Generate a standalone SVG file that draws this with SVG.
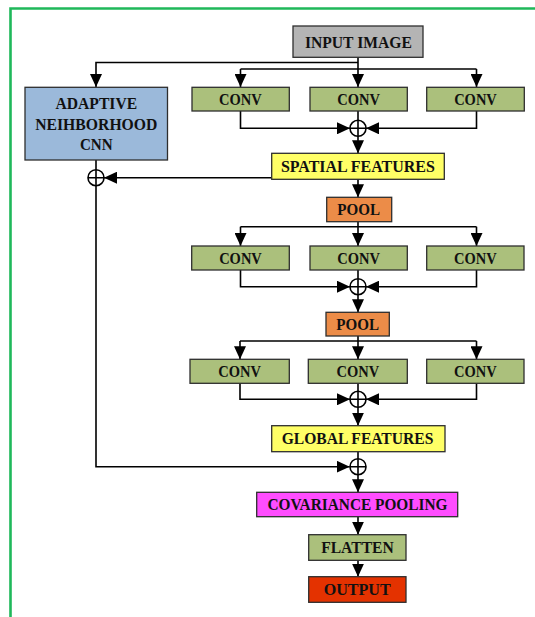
<svg xmlns="http://www.w3.org/2000/svg" width="535" height="617" viewBox="0 0 535 617">
  <style>
    .box { stroke: #2e2e2e; stroke-width: 1.3; }
    .lbl { font-family: "Liberation Serif", "Times New Roman", serif; font-weight: bold; font-size: 17px; fill: #111; text-anchor: middle; }
    .wire { fill: none; stroke: #000; stroke-width: 1.6; }
    .sum { fill: #fff; stroke: #000; stroke-width: 1.6; }
    .gray { fill: #b4b4b4; }
    .blue { fill: #9bb9da; }
    .green { fill: #abc07c; }
    .yellow { fill: #ffff66; }
    .orange { fill: #ec8c48; }
    .magenta { fill: #ff4dff; }
    .red { fill: #e43200; }
  </style>
  <defs>
    <marker id="arrow" markerUnits="userSpaceOnUse" markerWidth="13" markerHeight="12" refX="13" refY="6" orient="auto">
      <path d="M0,0 L13,6 L0,12 z" fill="#000"/>
    </marker>
    <g id="plus">
      <circle class="sum" cx="0" cy="0" r="8"/>
      <path class="wire" d="M-8,0 H8 M0,-8 V8"/>
    </g>
  </defs>

  <!-- outer frame -->
  <path d="M10.5,617 V8.5 H535" fill="none" stroke="#1fb85a" stroke-width="2.6"/>

  <!-- connectors -->
  <g id="connectors">
    <!-- input fan-out -->
    <path class="wire" d="M358,57 V87" marker-end="url(#arrow)"/>
    <path class="wire" d="M358,62.5 H96 V87" marker-end="url(#arrow)"/>
    <path class="wire" d="M240.5,69 H476.5"/>
    <path class="wire" d="M240.5,69 V87" marker-end="url(#arrow)"/>
    <path class="wire" d="M476.5,69 V87" marker-end="url(#arrow)"/>
    <!-- block 1 merge -->
    <path class="wire" d="M240.5,111 V128.3 H350" marker-end="url(#arrow)"/>
    <path class="wire" d="M476.5,111 V128.3 H366" marker-end="url(#arrow)"/>
    <path class="wire" d="M358,111 V120.3"/>
    <path class="wire" d="M358,136.3 V153.3" marker-end="url(#arrow)"/>
    <!-- spatial features to side branch -->
    <path class="wire" d="M271.7,177.7 H104" marker-end="url(#arrow)"/>
    <path class="wire" d="M96,160 V169.7"/>
    <path class="wire" d="M96,185.7 V466.7 H349.7" marker-end="url(#arrow)"/>
    <!-- pool 1 -->
    <path class="wire" d="M358,179.3 V197.3" marker-end="url(#arrow)"/>
    <path class="wire" d="M358,221.7 V246" marker-end="url(#arrow)"/>
    <path class="wire" d="M240.5,226.7 H476.5"/>
    <path class="wire" d="M240.5,226.7 V246" marker-end="url(#arrow)"/>
    <path class="wire" d="M476.5,226.7 V246" marker-end="url(#arrow)"/>
    <!-- block 2 merge -->
    <path class="wire" d="M240.5,270 V286.7 H350" marker-end="url(#arrow)"/>
    <path class="wire" d="M476.5,270 V286.7 H366" marker-end="url(#arrow)"/>
    <path class="wire" d="M358,270 V278.7"/>
    <path class="wire" d="M358,294.7 V312.3" marker-end="url(#arrow)"/>
    <!-- pool 2 -->
    <path class="wire" d="M358,336 V359.3" marker-end="url(#arrow)"/>
    <path class="wire" d="M240,341 H476.5"/>
    <path class="wire" d="M240,341 V359.3" marker-end="url(#arrow)"/>
    <path class="wire" d="M476.5,341 V359.3" marker-end="url(#arrow)"/>
    <!-- block 3 merge -->
    <path class="wire" d="M240,383.3 V399.3 H350" marker-end="url(#arrow)"/>
    <path class="wire" d="M476.5,383.3 V399.3 H366" marker-end="url(#arrow)"/>
    <path class="wire" d="M358,383.3 V391.3"/>
    <path class="wire" d="M358,407.3 V425.7" marker-end="url(#arrow)"/>
    <!-- fusion and head -->
    <path class="wire" d="M358,451.7 V458.7"/>
    <path class="wire" d="M358,474.7 V492.3" marker-end="url(#arrow)"/>
    <path class="wire" d="M358,516.7 V534.7" marker-end="url(#arrow)"/>
    <path class="wire" d="M358,560.3 V576.7" marker-end="url(#arrow)"/>
  </g>

  <!-- summation junctions -->
  <g id="sum1"><use href="#plus" x="358" y="128.3"/></g>
  <g id="sum-side"><use href="#plus" x="96" y="177.7"/></g>
  <g id="sum2"><use href="#plus" x="358" y="286.7"/></g>
  <g id="sum3"><use href="#plus" x="358" y="399.3"/></g>
  <g id="sum4"><use href="#plus" x="358" y="466.7"/></g>

  <!-- nodes -->
  <g id="input-image">
    <rect class="box gray" x="293" y="26" width="130" height="31.3"/>
    <text class="lbl" x="358.4" y="47.6" textLength="107" lengthAdjust="spacingAndGlyphs">INPUT IMAGE</text>
  </g>
  <g id="adaptive-cnn">
    <rect class="box blue" x="25" y="87.3" width="142.5" height="72.7"/>
    <text class="lbl" x="96.3" y="109.2" textLength="81.7" lengthAdjust="spacingAndGlyphs">ADAPTIVE</text>
    <text class="lbl" x="96.3" y="129.7" textLength="122.3" lengthAdjust="spacingAndGlyphs">NEIHBORHOOD</text>
    <text class="lbl" x="96.3" y="150.2" textLength="32.7" lengthAdjust="spacingAndGlyphs">CNN</text>
  </g>

  <g id="conv-1a"><rect class="box green" x="192" y="87.3" width="97.3" height="23.7"/><text class="lbl" x="240.4" y="105.1" textLength="42.7" lengthAdjust="spacingAndGlyphs">CONV</text></g>
  <g id="conv-1b"><rect class="box green" x="310" y="87.3" width="97.3" height="23.7"/><text class="lbl" x="358.6" y="105.1" textLength="42.7" lengthAdjust="spacingAndGlyphs">CONV</text></g>
  <g id="conv-1c"><rect class="box green" x="426.7" y="87.3" width="97.6" height="23.7"/><text class="lbl" x="475.5" y="105.1" textLength="42.7" lengthAdjust="spacingAndGlyphs">CONV</text></g>

  <g id="spatial-features">
    <rect class="box yellow" x="271.7" y="153.3" width="172.6" height="26"/>
    <text class="lbl" x="357.9" y="172" textLength="154" lengthAdjust="spacingAndGlyphs">SPATIAL FEATURES</text>
  </g>

  <g id="pool-1">
    <rect class="box orange" x="326.7" y="197.3" width="65" height="24.4"/>
    <text class="lbl" x="358.7" y="215.3" textLength="42.7" lengthAdjust="spacingAndGlyphs">POOL</text>
  </g>

  <g id="conv-2a"><rect class="box green" x="191.7" y="246" width="97.6" height="24"/><text class="lbl" x="240.5" y="263.9" textLength="42.7" lengthAdjust="spacingAndGlyphs">CONV</text></g>
  <g id="conv-2b"><rect class="box green" x="310" y="246" width="97.3" height="24"/><text class="lbl" x="358.6" y="263.9" textLength="42.7" lengthAdjust="spacingAndGlyphs">CONV</text></g>
  <g id="conv-2c"><rect class="box green" x="426.7" y="246" width="97.3" height="24"/><text class="lbl" x="475.3" y="263.9" textLength="42.7" lengthAdjust="spacingAndGlyphs">CONV</text></g>

  <g id="pool-2">
    <rect class="box orange" x="326" y="312.3" width="63.3" height="23.7"/>
    <text class="lbl" x="357.7" y="330.1" textLength="42.7" lengthAdjust="spacingAndGlyphs">POOL</text>
  </g>

  <g id="conv-3a"><rect class="box green" x="190" y="359.3" width="99.3" height="24"/><text class="lbl" x="239.6" y="377.2" textLength="42.7" lengthAdjust="spacingAndGlyphs">CONV</text></g>
  <g id="conv-3b"><rect class="box green" x="308.3" y="359.3" width="99" height="24"/><text class="lbl" x="357.8" y="377.2" textLength="42.7" lengthAdjust="spacingAndGlyphs">CONV</text></g>
  <g id="conv-3c"><rect class="box green" x="426.7" y="359.3" width="97.3" height="24"/><text class="lbl" x="475.3" y="377.2" textLength="42.7" lengthAdjust="spacingAndGlyphs">CONV</text></g>

  <g id="global-features">
    <rect class="box yellow" x="271.7" y="425.7" width="173.3" height="26"/>
    <text class="lbl" x="357.5" y="444.3" textLength="151.7" lengthAdjust="spacingAndGlyphs">GLOBAL FEATURES</text>
  </g>

  <g id="covariance-pooling">
    <rect class="box magenta" x="256.7" y="492.3" width="201" height="24.4"/>
    <text class="lbl" x="357.5" y="510.3" textLength="180" lengthAdjust="spacingAndGlyphs">COVARIANCE POOLING</text>
  </g>

  <g id="flatten">
    <rect class="box green" x="308.7" y="534.7" width="97.3" height="25.6"/>
    <text class="lbl" x="357.5" y="553.3" textLength="72.7" lengthAdjust="spacingAndGlyphs">FLATTEN</text>
  </g>

  <g id="output">
    <rect class="box red" x="308.7" y="576.7" width="97.3" height="25.6"/>
    <text class="lbl" x="357.2" y="595.3" textLength="67" lengthAdjust="spacingAndGlyphs">OUTPUT</text>
  </g>
</svg>
